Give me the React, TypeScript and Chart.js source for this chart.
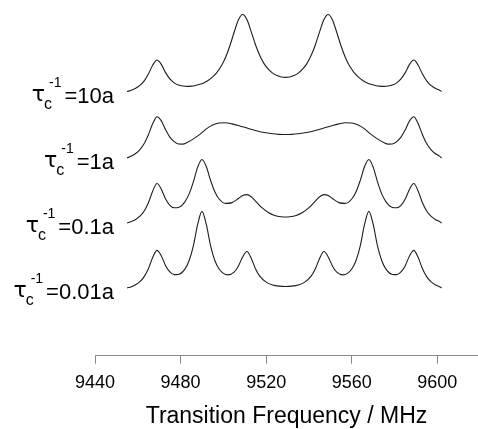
import { useEffect, useRef } from "react";
import { Chart, registerables } from "chart.js";

Chart.register(...registerables);

const FONT = "'Liberation Sans', Arial, Helvetica, sans-serif";
const TAU_FONT = "'DejaVu Sans', 'Liberation Sans', Arial, sans-serif";

// Curve labels (tau_c^-1 = ...), top to bottom
const curveLabels = ["10a", "1a", "0.1a", "0.01a"];
const xTicks = [9440, 9480, 9520, 9560, 9600];
const xTitle = "Transition Frequency / MHz";

// tau_c^-1 = 10a
const freqA = [
  9455, 9457, 9459, 9461, 9463, 9465, 9467, 9469, 9471, 9473, 9475, 9477, 9479, 9481, 9483, 9485, 9487, 9489, 9491,
  9493, 9495, 9497, 9499, 9501, 9503, 9505, 9507, 9509, 9511, 9513, 9515, 9517, 9519, 9521, 9523, 9525, 9527, 9529,
  9531, 9533, 9535, 9537, 9539, 9541, 9543, 9545, 9547, 9549, 9551, 9553, 9555, 9557, 9559, 9561, 9563, 9565, 9567,
  9569, 9571, 9573, 9575, 9577, 9579, 9581, 9583, 9585, 9587, 9589, 9591, 9593, 9595, 9597, 9599, 9601, 9602,
];
const valA = [
  264.0, 265.3, 267.3, 270.2, 274.7, 281.7, 290.5, 295.5, 291.1, 282.9, 276.6, 272.7, 270.5, 269.5, 269.2, 269.4,
  270.1, 271.2, 272.9, 275.3, 278.7, 283.2, 289.5, 298.1, 309.5, 323.0, 335.5, 341.0, 335.9, 323.9, 310.8, 300.0,
  291.9, 286.3, 282.4, 280.0, 278.6, 278.2,
  278.6, 280.0, 282.4, 286.3, 291.9, 300.0, 310.8, 323.9, 335.9, 341.0, 335.5, 323.0, 309.5, 298.1, 289.5, 283.2,
  278.7, 275.3, 272.9, 271.2, 270.1, 269.4, 269.2, 269.5, 270.5, 272.7, 276.6, 282.9, 291.1, 295.5, 290.5, 281.7,
  274.7, 270.2, 267.3, 265.3, 264.0,
];

// tau_c^-1 = 1a
const freqB = [
  9455, 9457, 9459, 9461, 9463, 9465, 9467, 9469, 9471, 9473, 9475, 9477, 9479, 9481, 9483, 9486, 9489, 9492, 9495,
  9498, 9501, 9504, 9507, 9511, 9515, 9519, 9523, 9526, 9529,
  9532, 9535, 9539, 9543, 9547, 9551, 9554, 9557, 9560, 9563, 9566, 9569, 9572, 9575, 9577, 9579, 9581, 9583, 9585,
  9587, 9589, 9591, 9593, 9595, 9597, 9599, 9601, 9602,
];
const valB = [
  197.6, 199.5, 202.1, 206.0, 212.0, 221.1, 232.0, 238.8, 234.7, 225.7, 218.4, 213.9, 211.6, 211.5, 213.0, 216.7,
  221.2, 226.7, 230.6, 232.5, 232.8, 231.7, 230.1, 227.5, 225.0, 223.0, 221.8, 221.2, 221.0,
  221.2, 221.8, 223.0, 225.0, 227.5, 230.1, 231.7, 232.8, 232.5, 230.6, 226.7, 221.2, 216.7, 213.0, 211.5, 211.6,
  213.9, 218.4, 225.7, 234.7, 238.8, 232.0, 221.1, 212.0, 206.0, 202.1, 199.5, 197.6,
];

// tau_c^-1 = 0.1a
const freqC = [
  9455, 9457, 9459, 9461, 9463, 9465, 9467, 9469, 9471, 9473, 9475, 9477, 9479, 9482, 9484, 9486, 9488, 9490, 9492,
  9494, 9496, 9498, 9501, 9504, 9507, 9509, 9511, 9513, 9515, 9518, 9521, 9524, 9527, 9529,
  9531, 9534, 9537, 9540, 9543, 9545, 9547, 9549, 9551, 9554, 9557, 9560, 9562, 9564, 9566, 9568, 9570, 9572, 9574,
  9576, 9579, 9581, 9583, 9585, 9587, 9589, 9591, 9593, 9595, 9597, 9599, 9601, 9602,
];
const valC = [
  132.7, 134.1, 136.2, 139.4, 144.6, 153.1, 164.7, 172.1, 166.4, 156.6, 150.3, 147.8, 148.2, 153.8, 161.7, 174.0,
  188.5, 196.1, 189.1, 175.3, 163.8, 156.6, 152.2, 153.0, 157.1, 160.1, 161.0, 158.9, 154.6, 147.9, 143.1, 140.2,
  138.9, 138.6,
  138.9, 140.2, 143.1, 147.9, 154.6, 158.9, 161.0, 160.1, 157.1, 153.0, 152.2, 156.6, 163.8, 175.3, 189.1, 196.1,
  188.5, 174.0, 161.7, 153.8, 148.2, 147.8, 150.3, 156.6, 166.4, 172.1, 164.7, 153.1, 144.6, 139.4, 136.2, 134.1,
  132.7,
];

// tau_c^-1 = 0.01a
const freqD = [
  9455, 9457, 9459, 9461, 9463, 9465, 9467, 9469, 9471, 9473, 9475, 9477, 9479, 9482, 9484, 9486, 9488, 9490, 9492,
  9494, 9496, 9498, 9500, 9502, 9505, 9507, 9509, 9511, 9513, 9515, 9517, 9520, 9523, 9526, 9529,
  9532, 9535, 9538, 9541, 9543, 9545, 9547, 9549, 9551, 9553, 9556, 9558, 9560, 9562, 9564, 9566, 9568, 9570, 9572,
  9574, 9576, 9579, 9581, 9583, 9585, 9587, 9589, 9591, 9593, 9595, 9597, 9599, 9601, 9602,
];
const valD = [
  67.7, 69.0, 71.0, 74.0, 79.0, 87.1, 98.3, 105.3, 99.7, 90.0, 83.7, 81.0, 81.2, 86.5, 95.1, 110.1, 131.4, 144.2,
  131.4, 110.1, 95.1, 86.6, 82.3, 80.8, 83.5, 89.5, 98.7, 104.1, 97.5, 87.0, 79.5, 73.5, 70.7, 69.5, 69.1,
  69.5, 70.7, 73.5, 79.5, 87.0, 97.5, 104.1, 98.7, 89.5, 83.5, 80.8, 82.3, 86.6, 95.1, 110.1, 131.4, 144.2, 131.4,
  110.1, 95.1, 86.5, 81.2, 81.0, 83.7, 90.0, 99.7, 105.3, 98.3, 87.1, 79.0, 74.0, 71.0, 69.0, 67.7,
];

const seriesFreqs = [freqA, freqB, freqC, freqD];
const seriesVals = [valA, valB, valC, valD];

const labelPlugin = {
  id: "curveLabels",
  afterDatasetsDraw(chart: any) {
    const ctx = chart.ctx as CanvasRenderingContext2D;
    const ys = chart.scales.y;
    ctx.save();
    ctx.fillStyle = "#000";
    ctx.textBaseline = "alphabetic";
    chart.data.datasets.forEach((ds: any, i: number) => {
      const first = ds.data[0];
      const base = ys.getPixelForValue(first.y) + 11;
      const right = 114;
      ctx.font = `22px ${FONT}`;
      const main = "=" + curveLabels[i];
      const wMain = ctx.measureText(main).width;
      ctx.textAlign = "left";
      const xEq = right - wMain;
      ctx.fillText(main, xEq, base);
      ctx.font = `14px ${FONT}`;
      const wSup = ctx.measureText("-1").width;
      const xSup = xEq - 3 - wSup;
      ctx.fillText("-1", xSup, base - 16);
      const xSub = xSup - 5;
      ctx.font = `16px ${FONT}`;
      ctx.fillText("c", xSub, base + 6);
      ctx.font = `22px ${TAU_FONT}`;
      ctx.textAlign = "right";
      ctx.fillText("τ", xSub + 1, base - 1.5);
    });
    ctx.restore();
  },
};

export default function App() {
  const ref = useRef<HTMLCanvasElement | null>(null);
  useEffect(() => {
    if (!ref.current) return;
    const chart = new Chart(ref.current, {
      type: "line",
      data: {
        datasets: seriesFreqs.map((fs, k) => ({
          label: curveLabels[k],
          data: fs.map((x, i) => ({ x, y: seriesVals[k][i] })),
          borderColor: "#1e1e1e",
          borderWidth: 1.1,
          pointRadius: 0,
          fill: false,
          cubicInterpolationMode: "monotone" as const,
        })),
      },
      options: {
        responsive: false,
        animation: false,
        layout: { padding: { left: 95, right: 0, top: 10, bottom: 0 } },
        plugins: { legend: { display: false }, tooltip: { enabled: false }, title: { display: false } },
        scales: {
          x: {
            type: "linear",
            min: 9440,
            max: 9619,
            afterBuildTicks: (scale: any) => {
              scale.ticks = xTicks.map((v) => ({ value: v }));
            },
            ticks: {
              font: { family: FONT, size: 18 },
              color: "#000",
              padding: 9,
              maxRotation: 0,
              autoSkip: false,
              callback: (v: any) => String(v),
            },
            grid: { drawOnChartArea: false, drawTicks: true, tickLength: 8, color: "#8a8a8a", lineWidth: 1 },
            border: { display: true, color: "#8a8a8a", width: 1 },
            title: {
              display: true,
              text: xTitle,
              font: { family: FONT, size: 23, lineHeight: 1.0 },
              color: "#000",
              padding: { top: 1.7, bottom: 1 },
            },
          },
          y: { display: false, min: 0, max: 345.5 },
        },
      },
      plugins: [labelPlugin],
    });
    return () => chart.destroy();
  }, []);
  return (
    <div style={{ position: "fixed", left: 0, top: 0, width: 478, height: 429, background: "#fff" }}>
      <canvas ref={ref} width={478} height={429} />
    </div>
  );
}
